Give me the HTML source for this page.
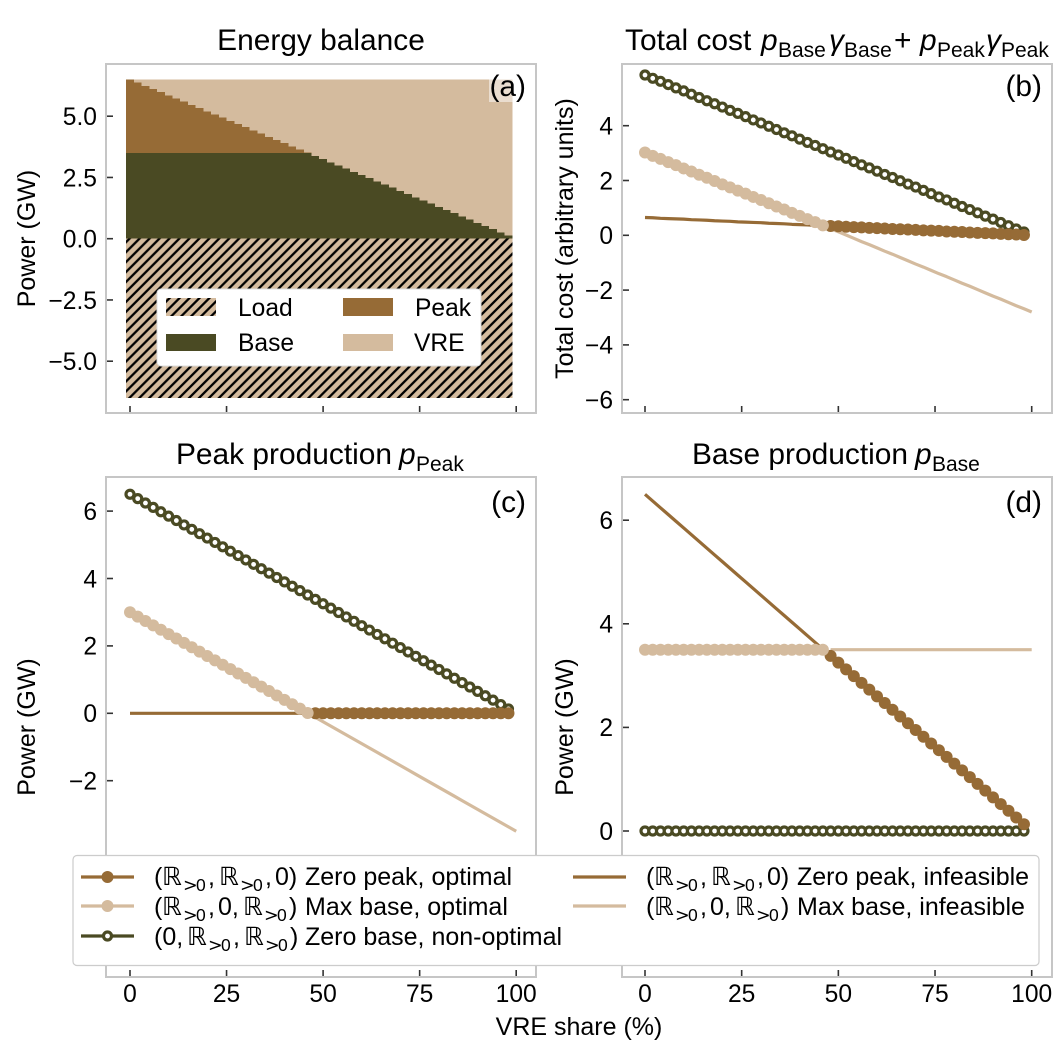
<!DOCTYPE html>
<html>
<head>
<meta charset="utf-8">
<title>VRE share chart</title>
<style>
html,body{margin:0;padding:0;background:#fff;}
svg{display:block;font-family:"Liberation Sans","DejaVu Sans",sans-serif;}
</style>
</head>
<body>
<svg id="chart" xmlns="http://www.w3.org/2000/svg" width="1062" height="1062" viewBox="0 0 1062 1062">
<defs>
<pattern id="hatch" patternUnits="userSpaceOnUse" width="9.95" height="9.95" x="0" y="0">
<rect width="9.95" height="9.95" fill="#d4bb9e"/>
<path d="M-1.2,1.2 L1.2,-1.2 M0,9.95 L9.95,0 M8.75,11.15 L11.15,8.75" stroke="#000" stroke-width="2.3"/>
</pattern>
</defs>
<rect width="1062" height="1062" fill="#fff"/>
<g id="panel-a"></g>
<g id="panel-b"></g>
<g id="panel-c"></g>
<g id="panel-d"></g>

<text x="321" y="50" font-size="29.9" text-anchor="middle">Energy balance</text>
<text y="50" font-size="29.9"><tspan x="625">Total cost</tspan><tspan x="761" font-style="italic">p</tspan><tspan x="778" y="57" font-size="21">Base</tspan><tspan x="829" y="50" font-style="italic">γ</tspan><tspan x="844" y="57" font-size="21">Base</tspan><tspan x="894" y="50">+</tspan><tspan x="920" font-style="italic">p</tspan><tspan x="937" y="57" font-size="21">Peak</tspan><tspan x="986" y="50" font-style="italic">γ</tspan><tspan x="1001" y="57" font-size="21">Peak</tspan></text>
<text y="464" font-size="29.9"><tspan x="176">Peak production</tspan><tspan x="399" font-style="italic">p</tspan><tspan x="416" y="471" font-size="21">Peak</tspan></text>
<text y="464" font-size="29.9"><tspan x="692">Base production</tspan><tspan x="915" font-style="italic">p</tspan><tspan x="932" y="471" font-size="21">Base</tspan></text>

<text x="35" y="238.5" font-size="25" text-anchor="middle" transform="rotate(-90 35 238.5)">Power (GW)</text>
<text x="573" y="238.5" font-size="25" text-anchor="middle" transform="rotate(-90 573 238.5)">Total cost (arbitrary units)</text>
<text x="35" y="727" font-size="25" text-anchor="middle" transform="rotate(-90 35 727)">Power (GW)</text>
<text x="573" y="727" font-size="25" text-anchor="middle" transform="rotate(-90 573 727)">Power (GW)</text>
<text x="579" y="1035" font-size="25" text-anchor="middle">VRE share (%)</text>

<rect x="489" y="72" width="39" height="30" fill="#fff" fill-opacity="0.5"/>
<text x="526" y="96" font-size="29.9" text-anchor="end">(a)</text>
<text x="1042" y="96" font-size="29.9" text-anchor="end">(b)</text>
<text x="526" y="512" font-size="29.9" text-anchor="end">(c)</text>
<text x="1042" y="512" font-size="29.9" text-anchor="end">(d)</text>

<g>
<rect x="157" y="289" width="324" height="77" rx="4" fill="#fff" stroke="#ddd" stroke-width="1"/>
<rect x="166" y="298" width="50" height="18" fill="url(#hatch)"/>
<text x="238" y="316" font-size="24.6">Load</text>
<rect x="166" y="334" width="50" height="17" fill="#4a4a23"/>
<text x="238" y="351" font-size="24.6">Base</text>
<rect x="343" y="298" width="50" height="18" fill="#966b36"/>
<text x="415" y="316" font-size="24.6">Peak</text>
<rect x="343" y="334" width="50" height="17" fill="#d4bb9e"/>
<text x="414" y="351" font-size="24.6">VRE</text>
</g>

<g>
<rect x="73" y="855.5" width="966" height="110" rx="4" fill="#fff" stroke="#ccc" stroke-width="1.2"/>

<g>
<line x1="81" x2="134" y1="877" y2="877" stroke="#966b36" stroke-width="3.2"/><circle cx="107.5" cy="877" r="6" fill="#966b36"/>
<text font-size="25" y="885"><tspan x="154">(</tspan><tspan x="162" font-family="DejaVu Sans">ℝ</tspan><tspan x="183" y="891" font-size="17.5" font-family="DejaVu Sans">&gt;</tspan><tspan x="196" y="891" font-size="17.5">0</tspan><tspan x="208" y="885">,</tspan><tspan x="219" font-family="DejaVu Sans">ℝ</tspan><tspan x="240" y="891" font-size="17.5" font-family="DejaVu Sans">&gt;</tspan><tspan x="253" y="891" font-size="17.5">0</tspan><tspan x="265" y="885">,</tspan><tspan x="275">0)</tspan><tspan x="305">Zero peak, optimal</tspan></text>
</g>
<g>
<line x1="81" x2="134" y1="906" y2="906" stroke="#d4bb9e" stroke-width="3.2"/><circle cx="107.5" cy="906" r="6" fill="#d4bb9e"/>
<text font-size="25" y="915"><tspan x="154">(</tspan><tspan x="162" font-family="DejaVu Sans">ℝ</tspan><tspan x="183" y="921" font-size="17.5" font-family="DejaVu Sans">&gt;</tspan><tspan x="196" y="921" font-size="17.5">0</tspan><tspan x="208" y="915">,</tspan><tspan x="218">0,</tspan><tspan x="243" font-family="DejaVu Sans">ℝ</tspan><tspan x="264" y="921" font-size="17.5" font-family="DejaVu Sans">&gt;</tspan><tspan x="277" y="921" font-size="17.5">0</tspan><tspan x="289" y="915">)</tspan><tspan x="305">Max base, optimal</tspan></text>
</g>
<g>
<line x1="81" x2="134" y1="936" y2="936" stroke="#4a4a23" stroke-width="3.2"/><circle cx="107.5" cy="936" r="4" fill="#fff" stroke="#4a4a23" stroke-width="3.2"/>
<text font-size="25" y="945"><tspan x="154">(0,</tspan><tspan x="187" font-family="DejaVu Sans">ℝ</tspan><tspan x="208" y="951" font-size="17.5" font-family="DejaVu Sans">&gt;</tspan><tspan x="221" y="951" font-size="17.5">0</tspan><tspan x="233" y="945">,</tspan><tspan x="244" font-family="DejaVu Sans">ℝ</tspan><tspan x="265" y="951" font-size="17.5" font-family="DejaVu Sans">&gt;</tspan><tspan x="278" y="951" font-size="17.5">0</tspan><tspan x="290" y="945">)</tspan><tspan x="305">Zero base, non-optimal</tspan></text>
</g>
<g>
<line x1="573" x2="626" y1="877" y2="877" stroke="#966b36" stroke-width="3.2"/>
<text font-size="25" y="885"><tspan x="646">(</tspan><tspan x="654" font-family="DejaVu Sans">ℝ</tspan><tspan x="675" y="891" font-size="17.5" font-family="DejaVu Sans">&gt;</tspan><tspan x="688" y="891" font-size="17.5">0</tspan><tspan x="700" y="885">,</tspan><tspan x="711" font-family="DejaVu Sans">ℝ</tspan><tspan x="732" y="891" font-size="17.5" font-family="DejaVu Sans">&gt;</tspan><tspan x="745" y="891" font-size="17.5">0</tspan><tspan x="757" y="885">,</tspan><tspan x="767">0)</tspan><tspan x="797">Zero peak, infeasible</tspan></text>
</g>
<g>
<line x1="573" x2="626" y1="906" y2="906" stroke="#d4bb9e" stroke-width="3.2"/>
<text font-size="25" y="915"><tspan x="646">(</tspan><tspan x="654" font-family="DejaVu Sans">ℝ</tspan><tspan x="675" y="921" font-size="17.5" font-family="DejaVu Sans">&gt;</tspan><tspan x="688" y="921" font-size="17.5">0</tspan><tspan x="700" y="915">,</tspan><tspan x="710">0,</tspan><tspan x="735" font-family="DejaVu Sans">ℝ</tspan><tspan x="756" y="921" font-size="17.5" font-family="DejaVu Sans">&gt;</tspan><tspan x="769" y="921" font-size="17.5">0</tspan><tspan x="781" y="915">)</tspan><tspan x="797">Max base, infeasible</tspan></text>
</g>
</g>
</svg>

<script>
// ---- categories ----
const sharesAll = [0,2,4,6,8,10,12,14,16,18,20,22,24,26,28,30,32,34,36,38,40,42,44,46,48,50,52,54,56,58,60,62,64,66,68,70,72,74,76,78,80,82,84,86,88,90,92,94,96,98];
const sharesLow = [0,2,4,6,8,10,12,14,16,18,20,22,24,26,28,30,32,34,36,38,40,42,44,46];
const sharesHigh = [48,50,52,54,56,58,60,62,64,66,68,70,72,74,76,78,80,82,84,86,88,90,92,94,96,98];
const sharesHighExt = [48,50,52,54,56,58,60,62,64,66,68,70,72,74,76,78,80,82,84,86,88,90,92,94,96,98,100];

// ---- panel (a) stacked values ----
const stackBase = [3.5,3.5,3.5,3.5,3.5,3.5,3.5,3.5,3.5,3.5,3.5,3.5,3.5,3.5,3.5,3.5,3.5,3.5,3.5,3.5,3.5,3.5,3.5,3.5,3.38,3.25,3.12,2.99,2.86,2.73,2.6,2.47,2.34,2.21,2.08,1.95,1.82,1.69,1.56,1.43,1.3,1.17,1.04,0.91,0.78,0.65,0.52,0.39,0.26,0.13];
const stackPeak = [3,2.87,2.74,2.61,2.48,2.35,2.22,2.09,1.96,1.83,1.7,1.57,1.44,1.31,1.18,1.05,0.92,0.79,0.66,0.53,0.4,0.27,0.14,0.01,0,0,0,0,0,0,0,0,0,0,0,0,0,0,0,0,0,0,0,0,0,0,0,0,0,0];
const stackVre = [0,0.13,0.26,0.39,0.52,0.65,0.78,0.91,1.04,1.17,1.3,1.43,1.56,1.69,1.82,1.95,2.08,2.21,2.34,2.47,2.6,2.73,2.86,2.99,3.12,3.25,3.38,3.51,3.64,3.77,3.9,4.03,4.16,4.29,4.42,4.55,4.68,4.81,4.94,5.07,5.2,5.33,5.46,5.59,5.72,5.85,5.98,6.11,6.24,6.37];
const stackLoad = [-6.5,-6.5,-6.5,-6.5,-6.5,-6.5,-6.5,-6.5,-6.5,-6.5,-6.5,-6.5,-6.5,-6.5,-6.5,-6.5,-6.5,-6.5,-6.5,-6.5,-6.5,-6.5,-6.5,-6.5,-6.5,-6.5,-6.5,-6.5,-6.5,-6.5,-6.5,-6.5,-6.5,-6.5,-6.5,-6.5,-6.5,-6.5,-6.5,-6.5,-6.5,-6.5,-6.5,-6.5,-6.5,-6.5,-6.5,-6.5,-6.5,-6.5];

// ---- panel (b) cost values ----
const costZeroBase = [5.85,5.73,5.62,5.5,5.38,5.27,5.15,5.03,4.91,4.8,4.68,4.56,4.45,4.33,4.21,4.1,3.98,3.86,3.74,3.63,3.51,3.39,3.28,3.16,3.04,2.93,2.81,2.69,2.57,2.46,2.34,2.22,2.11,1.99,1.87,1.76,1.64,1.52,1.4,1.29,1.17,1.05,0.94,0.82,0.7,0.59,0.47,0.35,0.23,0.12];
const costMaxBaseOptimal = [3.02,2.9,2.79,2.67,2.56,2.44,2.33,2.21,2.1,1.98,1.86,1.75,1.63,1.52,1.4,1.29,1.17,1.05,0.94,0.82,0.71,0.59,0.48,0.36];
const costMaxBaseInfeasible = [0.24,0.13,0.01,-0.11,-0.23,-0.34,-0.46,-0.58,-0.69,-0.81,-0.93,-1.05,-1.16,-1.28,-1.4,-1.51,-1.63,-1.75,-1.86,-1.98,-2.1,-2.22,-2.33,-2.45,-2.57,-2.68,-2.8];
const costZeroPeakOptimal = [0.34,0.33,0.31,0.3,0.29,0.27,0.26,0.25,0.23,0.22,0.21,0.2,0.18,0.17,0.16,0.14,0.13,0.12,0.1,0.09,0.08,0.07,0.05,0.04,0.03,0.01];
const costZeroPeakInfeasible = [0.65,0.64,0.62,0.61,0.6,0.59,0.57,0.56,0.55,0.53,0.52,0.51,0.49,0.48,0.47,0.46,0.44,0.43,0.42,0.4,0.39,0.38,0.36,0.35];

// ---- panel (c) peak production values ----
const peakZeroBase = [6.5,6.37,6.24,6.11,5.98,5.85,5.72,5.59,5.46,5.33,5.2,5.07,4.94,4.81,4.68,4.55,4.42,4.29,4.16,4.03,3.9,3.77,3.64,3.51,3.38,3.25,3.12,2.99,2.86,2.73,2.6,2.47,2.34,2.21,2.08,1.95,1.82,1.69,1.56,1.43,1.3,1.17,1.04,0.91,0.78,0.65,0.52,0.39,0.26,0.13];
const peakMaxBaseOptimal = [3,2.87,2.74,2.61,2.48,2.35,2.22,2.09,1.96,1.83,1.7,1.57,1.44,1.31,1.18,1.05,0.92,0.79,0.66,0.53,0.4,0.27,0.14,0.01];
const peakMaxBaseInfeasible = [-0.12,-0.25,-0.38,-0.51,-0.64,-0.77,-0.9,-1.03,-1.16,-1.29,-1.42,-1.55,-1.68,-1.81,-1.94,-2.07,-2.2,-2.33,-2.46,-2.59,-2.72,-2.85,-2.98,-3.11,-3.24,-3.37,-3.5];
const peakZeroPeakOptimal = [0,0,0,0,0,0,0,0,0,0,0,0,0,0,0,0,0,0,0,0,0,0,0,0,0,0];
const peakZeroPeakInfeasible = [0,0,0,0,0,0,0,0,0,0,0,0,0,0,0,0,0,0,0,0,0,0,0,0];

// ---- panel (d) base production values ----
const baseZeroBase = [0,0,0,0,0,0,0,0,0,0,0,0,0,0,0,0,0,0,0,0,0,0,0,0,0,0,0,0,0,0,0,0,0,0,0,0,0,0,0,0,0,0,0,0,0,0,0,0,0,0];
const baseMaxBaseOptimal = [3.5,3.5,3.5,3.5,3.5,3.5,3.5,3.5,3.5,3.5,3.5,3.5,3.5,3.5,3.5,3.5,3.5,3.5,3.5,3.5,3.5,3.5,3.5,3.5];
const baseMaxBaseInfeasible = [3.5,3.5,3.5,3.5,3.5,3.5,3.5,3.5,3.5,3.5,3.5,3.5,3.5,3.5,3.5,3.5,3.5,3.5,3.5,3.5,3.5,3.5,3.5,3.5,3.5,3.5,3.5];
const baseZeroPeakOptimal = [3.38,3.25,3.12,2.99,2.86,2.73,2.6,2.47,2.34,2.21,2.08,1.95,1.82,1.69,1.56,1.43,1.3,1.17,1.04,0.91,0.78,0.65,0.52,0.39,0.26,0.13];
const baseZeroPeakInfeasible = [6.5,6.37,6.24,6.11,5.98,5.85,5.72,5.59,5.46,5.33,5.2,5.07,4.94,4.81,4.68,4.55,4.42,4.29,4.16,4.03,3.9,3.77,3.64,3.51];

// ---- tick labels ----
const xTicks = [0,25,50,75,100];
const yTicksA = [5,2.5,0,-2.5,-5];
const yTickLabelsA = ["5.0","2.5","0.0","−2.5","−5.0"];
const yTicksB = [4,2,0,-2,-4,-6];
const yTickLabelsB = ["4","2","0","−2","−4","−6"];
const yTicksC = [6,4,2,0,-2];
const yTickLabelsC = ["6","4","2","0","−2"];
const yTicksD = [6,4,2,0];
const yTickLabelsD = ["6","4","2","0"];

const BROWN = "#966b36", TAN = "#d4bb9e", DARK = "#4a4a23";
const NS = "http://www.w3.org/2000/svg";
const spineColor = "#c6c6c6";

function make(parent, tag, attrs){
  const el = document.createElementNS(NS, tag);
  for (const k in attrs) el.setAttribute(k, attrs[k]);
  parent.appendChild(el);
  return el;
}

// axis functions
const xA = v => 130 + 3.862 * v;
const xB = v => 645 + 3.867 * v;
const yA = v => 238.7 - 24.5 * v;
const yB = v => 235.3 - 27.4 * v;
const yC = v => 713.3 - 33.7 * v;
const yD = v => 831 - 51.8 * v;

function frame(parent, box, xf, yf, yVals, yLabs, showX, key){
  const fr = make(parent, "rect", {x:box.l, y:box.t, width:box.r-box.l, height:box.b-box.t, fill:"none", stroke:spineColor, "stroke-width":2});
  
  
  xTicks.forEach(v => {
    const t = make(parent, "line", {x1:xf(v), x2:xf(v), y1:box.b-1, y2:box.b-7, stroke:"#333", "stroke-width":1.6});
    
    
    if (showX) {
      const lab = make(parent, "text", {x:xf(v), y:1002, "font-size":24.6, "text-anchor":"middle"});
      lab.textContent = String(v);
      
      
    }
  });
  yVals.forEach((v, i) => {
    const t = make(parent, "line", {x1:box.l+1, x2:box.l+7, y1:yf(v), y2:yf(v), stroke:"#333", "stroke-width":1.6});
    
    
    const lab = make(parent, "text", {x:box.l-9, y:yf(v)+8.8, "font-size":24.6, "text-anchor":"end"});
    lab.textContent = yLabs[i];
    
    
  });
}

function drawLine(parent, xs, ys, xf, yf, color, name){
  const pts = xs.map((x, i) => xf(x).toFixed(2) + "," + yf(ys[i]).toFixed(2)).join(" ");
  const p = make(parent, "polyline", {points:pts, fill:"none", stroke:color, "stroke-width":3.2, "stroke-linejoin":"round"});
  
  
}

function drawMarkers(parent, xs, ys, xf, yf, color, open, name){
  xs.forEach((x, i) => {
    const c = make(parent, "circle", open
      ? {cx:xf(x), cy:yf(ys[i]), r:4, fill:"#fff", stroke:color, "stroke-width":3.2}
      : {cx:xf(x), cy:yf(ys[i]), r:6, fill:color});
    
    
  });
}

function drawSeries(parent, xf, yf, zb, mbo, mbi, zpo, zpi, key){
  drawLine(parent, sharesLow, zpi, xf, yf, BROWN, 'zero-peak-infeasible-line-' + key);
  drawLine(parent, sharesHighExt, mbi, xf, yf, TAN, 'max-base-infeasible-line-' + key);
  drawLine(parent, sharesAll, zb, xf, yf, DARK, 'zero-base-line-' + key);
  drawMarkers(parent, sharesAll, zb, xf, yf, DARK, true, 'zero-base-' + key);
  drawLine(parent, sharesHigh, zpo, xf, yf, BROWN, 'zero-peak-optimal-line-' + key);
  drawMarkers(parent, sharesHigh, zpo, xf, yf, BROWN, false, 'zero-peak-optimal-' + key);
  drawLine(parent, sharesLow, mbo, xf, yf, TAN, 'max-base-optimal-line-' + key);
  drawMarkers(parent, sharesLow, mbo, xf, yf, TAN, false, 'max-base-optimal-' + key);
}

// Panel (a)
const pa = document.getElementById("panel-a");
const barW = 3.862 * 2;
function bar(share, v0, v1, fill, name){
  const top = yA(Math.max(v0, v1)), bot = yA(Math.min(v0, v1));
  const r = make(pa, "rect", {x:xA(share-1), y:top, width:barW, height:bot-top, fill:fill, "shape-rendering":"crispEdges"});
  
  
}
sharesAll.forEach((s, i) => {
  bar(s, 0, stackLoad[i], "url(#hatch)", 'load-bar');
  bar(s, 0, stackBase[i], DARK, 'base-bar');
  if (stackPeak[i] > 0) bar(s, stackBase[i], stackBase[i]+stackPeak[i], BROWN, 'peak-bar');
  if (stackVre[i] > 0) bar(s, stackBase[i]+stackPeak[i], stackBase[i]+stackPeak[i]+stackVre[i], TAN, 'vre-bar');
});
frame(pa, {l:106,r:536,t:64,b:413}, xA, yA, yTicksA, yTickLabelsA, false, 'a');

// Panel (b)
const pb = document.getElementById("panel-b");
drawSeries(pb, xB, yB, costZeroBase, costMaxBaseOptimal, costMaxBaseInfeasible, costZeroPeakOptimal, costZeroPeakInfeasible, 'b');
frame(pb, {l:622,r:1052,t:64,b:413}, xB, yB, yTicksB, yTickLabelsB, false, 'b');

// Panel (c)
const pc = document.getElementById("panel-c");
drawSeries(pc, xA, yC, peakZeroBase, peakMaxBaseOptimal, peakMaxBaseInfeasible, peakZeroPeakOptimal, peakZeroPeakInfeasible, 'c');
frame(pc, {l:106,r:536,t:477,b:977}, xA, yC, yTicksC, yTickLabelsC, true, 'c');

// Panel (d)
const pd = document.getElementById("panel-d");
drawSeries(pd, xB, yD, baseZeroBase, baseMaxBaseOptimal, baseMaxBaseInfeasible, baseZeroPeakOptimal, baseZeroPeakInfeasible, 'd');
frame(pd, {l:622,r:1052,t:477,b:977}, xB, yD, yTicksD, yTickLabelsD, true, 'd');
</script>
</body>
</html>
